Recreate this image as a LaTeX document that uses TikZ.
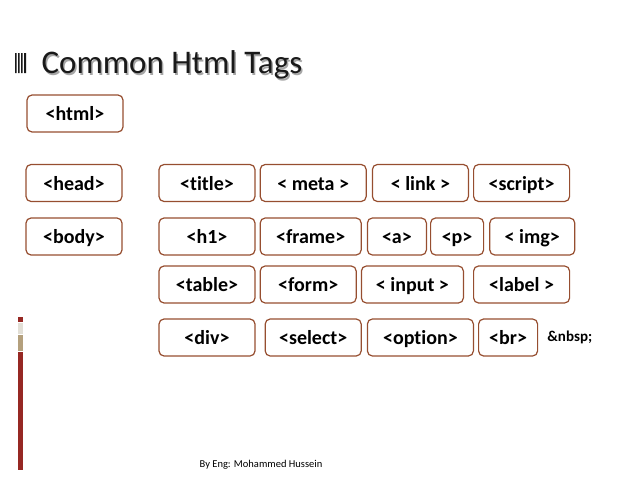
\documentclass[tikz,border=0pt]{standalone}
\usepackage{fontspec}
\setmainfont[Ligatures=NoCommon]{Carlito}
\usetikzlibrary{positioning}
\definecolor{tagbrown}{RGB}{150,78,48}
\definecolor{barred}{RGB}{150,40,35}
\definecolor{bartan}{RGB}{180,160,125}
\definecolor{bargray}{RGB}{226,223,214}
\definecolor{titleink}{RGB}{25,25,25}

\begin{document}
\begin{tikzpicture}[x=1pt,y=-1pt,node distance=4pt,
  tag/.style={draw=tagbrown,line width=1.2pt,rounded corners=5pt,minimum width=#1,
    minimum height=37pt,inner sep=0pt,text height=14pt,text depth=0pt,
    font=\fontsize{20}{22}\selectfont\bfseries},
  tag/.default=96pt]
\useasboundingbox (0,0) rectangle (638,479);
% heading
\fill[titleink] (15,53) rectangle (16.6,73) (18,53) rectangle (19.6,73)
  (21,53) rectangle (22.6,73) (24,53) rectangle (26,73);
\node[anchor=base west,text=black!35,font=\fontsize{33}{36}\selectfont] at (39.5,75) {Common Html Tags};
\node[anchor=base west,text=titleink,font=\fontsize{33}{36}\selectfont] (heading) at (38,73.5) {Common Html Tags};
% side bar
\fill[barred] (18,317) rectangle (23,322);
\fill[bargray] (18,323) rectangle (23,334);
\fill[bartan] (18,335) rectangle (23,351);
\fill[barred] (18,352) rectangle (23,470);
% tags
\node[tag] (html) at (75,113.5) {<html>};
\node[tag] (head) at (74,183) {<head>};
\node[tag] (body) at (74,236.5) {<body>};
\node[tag] (title) at (207,183) {<title>};
\node[tag=106pt,right=of title] (meta) {< meta >};
\node[tag,right=5pt of meta] (link) {< link >};
\node[tag,right=of link] (script) {<script>};
\node[tag] (h1) at (207,236.5) {<h1>};
\node[tag=101pt,right=of h1] (frame) {<frame>};
\node[tag=59pt,right=5pt of frame] (a) {<a>};
\node[tag=53pt,right=3pt of a] (p) {<p>};
\node[tag=85pt,right=5pt of p] (img) {< img>};
\node[tag] (table) at (207,284.5) {<table>};
\node[tag,right=of table] (form) {<form>};
\node[tag=102pt,right=of form] (input) {< input >};
\node[tag,right=9pt of input] (label) {<label >};
\node[tag] (div) at (207,337.5) {<div>};
\node[tag,right=9pt of div] (select) {<select>};
\node[tag=106pt,right=5pt of select] (option) {<option>};
\node[tag=59pt,right=of option] (br) {<br>};
\node[right=9pt of br,inner sep=0pt,font=\fontsize{15}{17}\selectfont\bfseries] (nbsp) {\&nbsp;};
% footer
\node[font=\fontsize{10.5}{12}\selectfont] (author) at (261,465) {By Eng: Mohammed Hussein};
\end{tikzpicture}
\end{document}
